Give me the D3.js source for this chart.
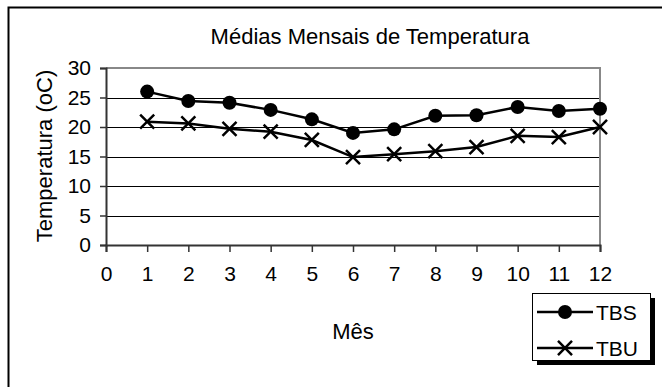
<!DOCTYPE html>
<html>
<head>
<meta charset="utf-8">
<script src="https://cdn.jsdelivr.net/npm/d3@7"></script>
<style>
  body { margin: 0; background: #fff; }
  svg { display: block; font-family: "Liberation Sans", Arial, sans-serif; }
</style>
</head>
<body>
<svg id="chart" width="662" height="387"></svg>
<script>
// monthly averages
var months = [1, 2, 3, 4, 5, 6, 7, 8, 9, 10, 11, 12];
var tbs = [26.0, 24.4, 24.1, 22.9, 21.3, 19.0, 19.6, 21.9, 22.0, 23.4, 22.7, 23.1];
var tbu = [20.9, 20.6, 19.7, 19.2, 17.8, 14.9, 15.4, 15.9, 16.6, 18.5, 18.3, 20.0];
var xTicks = [0, 1, 2, 3, 4, 5, 6, 7, 8, 9, 10, 11, 12];
var yTicks = [0, 5, 10, 15, 20, 25, 30];

var svg = d3.select("#chart");

// outer chart border (runs off right and bottom)
svg.append("rect")
  .attr("x", 8.5).attr("y", 7.5)
  .attr("width", 700).attr("height", 400)
  .style("fill", "none").style("stroke", "#000").style("stroke-width", 2);

var x = d3.scaleLinear().domain([0, 12]).range([106, 600]);
var y = d3.scaleLinear().domain([0, 30]).range([245, 68]);

// gridlines
svg.append("g").selectAll("line")
  .data(yTicks.filter(function(d) { return d > 0 && d < 30; }))
  .enter().append("line")
  .attr("x1", x(0)).attr("x2", x(12))
  .attr("y1", function(d) { return Math.round(y(d)) + 0.5; })
  .attr("y2", function(d) { return Math.round(y(d)) + 0.5; })
  .style("stroke", "#000").style("stroke-width", 1);

// plot border top/right in gray
svg.append("path")
  .attr("d", "M" + x(0) + "," + y(30) + "H" + x(12) + "V" + y(0))
  .style("fill", "none").style("stroke", "#888").style("stroke-width", 2);

// axes
var yAxis = svg.append("g")
  .attr("transform", "translate(" + x(0) + ",0)")
  .call(d3.axisLeft(y).tickValues(yTicks).tickSize(6).tickPadding(9));
var xAxis = svg.append("g")
  .attr("transform", "translate(0," + y(0) + ")")
  .call(d3.axisBottom(x).tickValues(xTicks).tickSize(7).tickPadding(14));

[yAxis, xAxis].forEach(function(a) {
  a.select(".domain").style("stroke", "#333").style("stroke-width", 2);
  a.selectAll(".tick line").style("stroke", "#333").style("stroke-width", 1.5);
  a.selectAll("text").style("font-size", "21px").style("fill", "#000")
    .style("font-family", "'Liberation Sans', Arial, sans-serif");
});

// titles
svg.append("text")
  .attr("x", 370).attr("y", 44)
  .attr("text-anchor", "middle")
  .style("font-size", "22px")
  .text("Médias Mensais de Temperatura");

svg.append("text")
  .attr("transform", "translate(52,156) rotate(-90)")
  .attr("text-anchor", "middle")
  .style("font-size", "22px")
  .text("Temperatura (oC)");

svg.append("text")
  .attr("x", 353).attr("y", 339)
  .attr("text-anchor", "middle")
  .style("font-size", "22px")
  .text("Mês");

// series lines
var line = d3.line()
  .x(function(d, i) { return x(months[i]); })
  .y(function(d) { return y(d); });

svg.append("path").datum(tbs).attr("d", line)
  .style("fill", "none").style("stroke", "#000").style("stroke-width", 2.5);
svg.append("path").datum(tbu).attr("d", line)
  .style("fill", "none").style("stroke", "#000").style("stroke-width", 2.5);

// markers
svg.append("g").selectAll("circle")
  .data(tbs).enter().append("circle")
  .attr("cx", function(d, i) { return x(months[i]); })
  .attr("cy", function(d) { return y(d); })
  .attr("r", 7)
  .style("fill", "#000");

var cross = d3.symbol().type(d3.symbolX).size(130);
svg.append("g").selectAll("path")
  .data(tbu).enter().append("path")
  .attr("transform", function(d, i) { return "translate(" + x(months[i]) + "," + y(d) + ")"; })
  .attr("d", cross)
  .style("fill", "none").style("stroke", "#000").style("stroke-width", 2.5);

// legend
var lg = svg.append("g");
lg.append("rect")
  .attr("x", 537).attr("y", 298).attr("width", 118).attr("height", 67)
  .style("fill", "#000");
lg.append("rect")
  .attr("x", 532.5).attr("y", 293.5).attr("width", 118).attr("height", 67)
  .style("fill", "#fff").style("stroke", "#000").style("stroke-width", 1);

var legendItems = [{name: "TBS", type: "circle"}, {name: "TBU", type: "x"}];
legendItems.forEach(function(item, i) {
  var ly = 312 + i * 36;
  lg.append("line")
    .attr("x1", 537).attr("x2", 593).attr("y1", ly).attr("y2", ly)
    .style("stroke", "#000").style("stroke-width", 2.5);
  if (item.type === "circle") {
    lg.append("circle").attr("cx", 565).attr("cy", ly).attr("r", 7).style("fill", "#000");
  } else {
    lg.append("path").attr("transform", "translate(565," + ly + ")").attr("d", cross)
      .style("fill", "none").style("stroke", "#000").style("stroke-width", 2.5);
  }
  lg.append("text")
    .attr("x", 596).attr("y", ly + 8)
    .style("font-size", "21px")
    .text(item.name);
});
</script>
</body>
</html>
